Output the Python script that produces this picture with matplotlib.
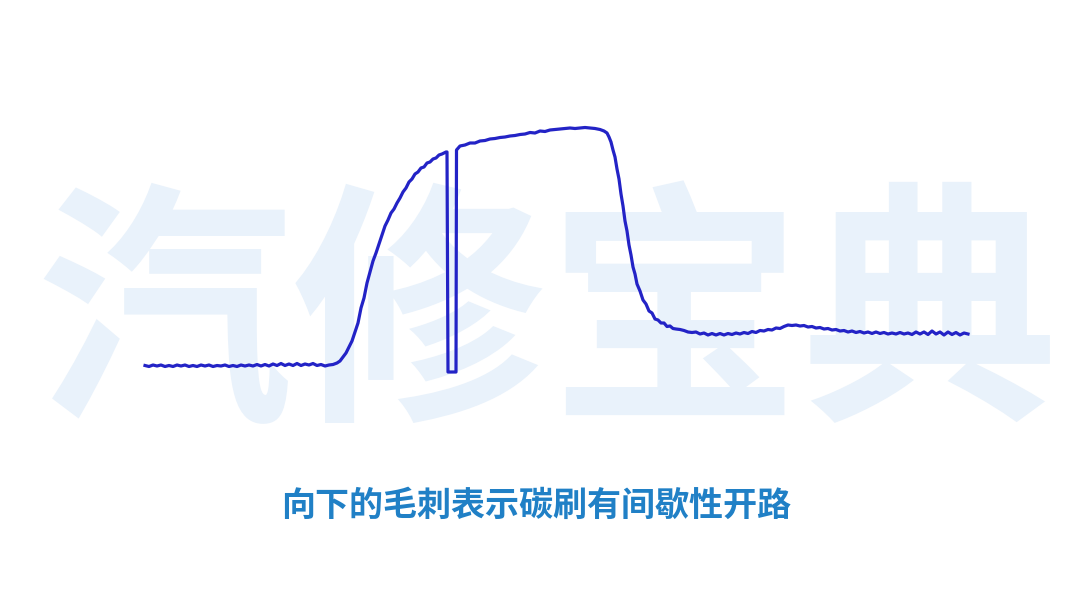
import matplotlib
matplotlib.use("Agg")
import matplotlib.pyplot as plt

# Waveform samples: (time in samples, signal level)
time = [
    145, 149, 153, 157, 161, 165, 169, 173, 177, 181, 185, 189, 193, 197, 201, 205,
    209, 213, 217, 221, 225, 229, 233, 237, 241, 245, 249, 253, 257, 261, 265, 269,
    273, 277, 281, 285, 289, 293, 297, 301, 305, 309, 313, 317, 321, 325, 329, 333,
    337, 340, 343, 346, 349, 352, 355, 358, 361, 364, 367, 370, 373, 376, 379, 382,
    385, 388, 391, 394, 397, 400, 403, 406, 409, 412, 415, 418, 421, 424, 427, 430,
    433, 436, 439, 442, 446,
    447, 448, 456, 456.5,
    460, 465, 470, 475, 480, 485, 490, 495, 500, 505, 510, 515, 520, 525, 530, 535,
    540, 545, 550, 555, 560, 565, 570, 575, 580, 585, 590, 595, 600, 604, 607,
    609, 611, 613, 615, 617, 619, 621, 623, 625, 627, 629, 631, 633, 635, 637, 640,
    643, 646, 649, 652, 655, 658, 661, 664, 667, 670, 673, 676, 680, 684, 688, 692,
    696, 700, 704, 708, 712, 716, 720, 724, 728, 732, 736, 740, 744, 748, 752, 756,
    760, 764, 768, 772, 776, 780, 784, 788, 792, 796, 800, 804, 808, 812, 816, 820,
    824, 828, 832, 836, 840, 844, 848, 852, 856, 860, 864, 868, 872, 876, 880, 884,
    888, 892, 896, 900, 904, 908, 912, 916, 920, 924, 928, 932, 936, 940, 944, 948,
    952, 956, 960, 964, 968,
]
level = [
    0.5, -0.5, 1, 0, 1, -0.5, 0.5, -0.5, 1, 0, 1, -0.5, 0.5, -0.5, 1, 0,
    1, -0.5, 0.5, 0, 1, -0.5, 0.5, -0.5, 1, 0, 1, 0, 1.5, 0, 1.5, 0,
    2, 0.5, 2.5, 0.5, 2, 0.5, 2.5, 0.5, 2, 1, 2.5, 0.5, 1.5, 0, 1, 1.5,
    3, 5, 9, 13, 19, 25, 34, 43, 58, 68, 83, 94, 105, 113, 122, 131,
    140, 146, 153, 157, 163, 168, 174, 178, 184, 187, 192, 194, 198, 199, 203, 204,
    207, 208, 211, 212, 214,
    214, -6, -6, 216,
    220, 221, 223, 223, 225, 225.5, 227, 227.5, 228.5, 229, 230, 230.5, 231.5, 232, 233.5, 233,
    235, 234.5, 236, 236.5, 237, 237.5, 238, 237.5, 238, 238.5, 238, 237.5, 236.5, 235, 233,
    229, 224, 216, 209, 197, 187, 172, 160, 145, 135, 121, 111, 99, 92, 82, 75,
    66, 62, 55, 53, 47, 46, 43, 43, 39.5, 40, 37.5, 37, 36.5, 35.5, 34, 33.5,
    34, 32, 33, 31, 32.5, 31, 32.5, 31, 32.5, 31.5, 33, 32, 33.5, 32.5, 34.5, 33.5,
    35.5, 35, 36.5, 36, 38, 37.5, 39.5, 41, 40.5, 41, 40, 40.5, 39, 39.5, 38, 38.5,
    37, 37.5, 36, 36.5, 35, 35.5, 34, 35, 33.5, 34.5, 33, 34, 32.5, 34, 32.5, 33.5,
    32, 33, 32, 33.5, 32, 33, 31.5, 34, 32, 34, 31.5, 35, 32, 34, 31, 34,
    31.5, 33.5, 31, 33, 32,
]

watermark = "汽修宝典"
caption = "向下的毛刺表示碳刷有间歇性开路"

fig = plt.figure(figsize=(10.8, 6.08), dpi=100)
fig.patch.set_facecolor("white")
ax = fig.add_axes([0, 0, 1, 1])
ax.set_xlim(0, 1080)
ax.set_ylim(-242, 366)
ax.axis("off")

# watermark (behind the trace)
ax.text(0.507, 0.465, watermark, fontsize=184, color="#e9f2fb",
        family=["Noto Sans CJK SC", "DejaVu Sans"], weight="bold",
        ha="center", va="center", transform=ax.transAxes, zorder=0)

ax.plot(time, level, color="#2323c6", lw=2.3, solid_joinstyle="round", zorder=3)

fig.text(0.496, 0.168, caption, fontsize=24.5, color="#2080c6",
         family=["Noto Sans CJK SC", "DejaVu Sans"], weight="bold",
         ha="center", va="center")

fig.savefig("out.png", dpi=100, facecolor="white")
